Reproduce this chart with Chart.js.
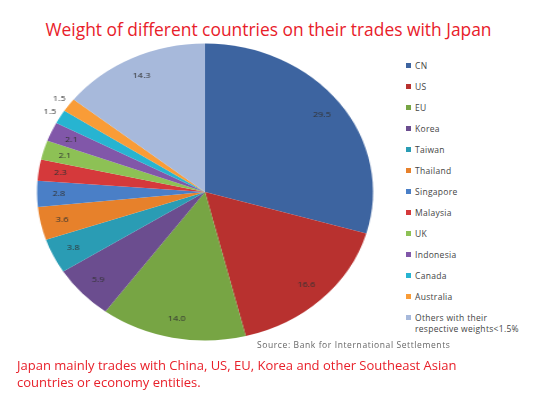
<!DOCTYPE html>
<html>
<head>
<meta charset="utf-8">
<script src="https://cdn.jsdelivr.net/npm/chart.js@4.4.0/dist/chart.umd.min.js"></script>
<style>
    body { margin: 0; background: #fff; width: 537px; height: 398px; overflow: hidden; position: relative; font-family: "Open Sans", sans-serif; }
    #title { position: absolute; left: 0; top: 17px; width: 537px; text-align: center; color: #e8202a; font-size: 17.4px; }
    #pieWrap { position: absolute; left: 35px; top: 21.5px; width: 340px; height: 340px; transform: scaleX(1.131); transform-origin: 50% 50%; }
    #legend { position: absolute; left: 406px; top: 60px; font-size: 8.5px; letter-spacing: 0.3px; color: #444; }
    .item { position: relative; height: 21px; padding-left: 9px; line-height: 11px; }
    .item span { position: absolute; left: 0; top: 3px; width: 5px; height: 5px; }
    #source { position: absolute; left: 257px; top: 339px; font-size: 8.5px; letter-spacing: 0.6px; color: #666; }
    #note { position: absolute; left: 17px; top: 357px; font-size: 13px; line-height: 17px; color: #e8202a; }
</style>
</head>
<body>
<div id="title">Weight of different countries on their trades with Japan</div>
<div id="pieWrap"><canvas id="pieChart" width="340" height="340"></canvas></div>
<div id="legend"></div>
<div id="source">Source: Bank for International Settlements</div>
<div id="note">Japan mainly trades with China, US, EU, Korea and other Southeast Asian<br>countries or economy entities.</div>
<script>
// Dữ liệu
const countries = ['CN', 'US', 'EU', 'Korea', 'Taiwan', 'Thailand', 'Singapore', 'Malaysia', 'UK', 'Indonesia', 'Canada', 'Australia', 'Others with their respective weights<1.5%'];
const weights = [29.5, 16.6, 14.0, 5.9, 3.8, 3.6, 2.8, 2.3, 2.1, 2.1, 1.5, 1.5, 14.3];
const colors = ['#3d64a0', '#b8312f', '#77a544', '#6b4d8f', '#2a9cb4', '#e7812b', '#4a7fc7', '#d5393b', '#8dc155', '#8157a9', '#27b4d1', '#f99c37', '#a7b9db'];

// Plugin vẽ nhãn giá trị trên từng lát
const valueLabels = {
    id: 'valueLabels',
    afterDatasetsDraw(chart) {
        const ctx = chart.ctx;
        const meta = chart.getDatasetMeta(0);
        ctx.save();
        ctx.font = '8px "Open Sans"';
        ctx.fillStyle = '#333';
        ctx.textAlign = 'center';
        ctx.textBaseline = 'middle';
        meta.data.forEach((arc, i) => {
            const v = weights[i];
            const mid = (arc.startAngle + arc.endAngle) / 2;
            const r = arc.outerRadius * (v < 2 ? 1.07 : 0.87);
            ctx.fillText(v.toFixed(1), arc.x + Math.cos(mid) * r, arc.y + Math.sin(mid) * r);
        });
        ctx.restore();
    }
};

new Chart(document.getElementById('pieChart').getContext('2d'), {
    type: 'pie',
    data: {
        labels: countries,
        datasets: [{ data: weights, backgroundColor: colors, borderWidth: 0 }]
    },
    options: {
        responsive: false,
        animation: false,
        radius: 148.5,
        plugins: { legend: { display: false }, tooltip: { enabled: false } }
    },
    plugins: [valueLabels]
});

// Chú thích dạng HTML
const legend = document.getElementById('legend');
countries.forEach((c, i) => {
    const text = i === countries.length - 1 ? 'Others with their<br>respective weights&lt;1.5%' : c;
    legend.insertAdjacentHTML('beforeend', `<div class="item"><span style="background:${colors[i]}"></span>${text}</div>`);
});
</script>
</body>
</html>
